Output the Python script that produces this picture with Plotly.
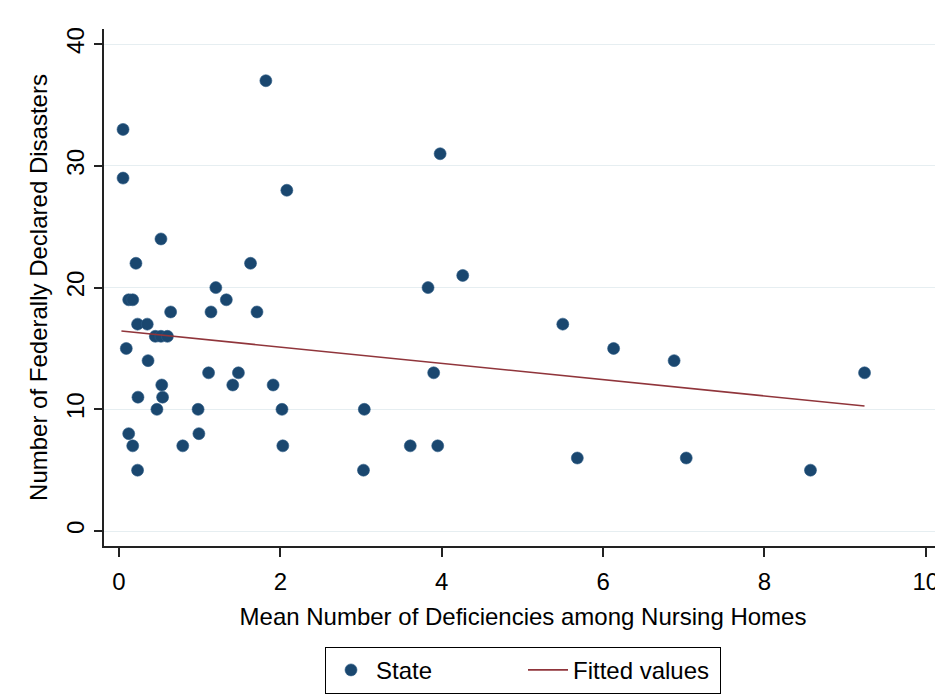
import plotly.graph_objects as go

# Mean number of deficiencies (x) and number of federally declared disasters (y), one point per state
deficiencies = [
    0.05, 0.05, 1.82, 2.08, 0.52, 0.21, 1.63, 1.20, 0.12, 0.17,
    1.33, 0.64, 1.14, 1.71, 0.23, 0.35, 0.45, 0.52, 0.60, 0.09,
    0.36, 1.11, 1.48, 0.53, 1.41, 1.91, 0.235, 0.54, 0.47, 0.98,
    2.02, 0.12, 0.99, 0.17, 0.79, 2.03, 0.23, 3.98, 4.26, 3.83,
    5.50, 6.13, 3.90, 3.04, 3.61, 3.95, 5.68, 3.03, 6.88, 9.24,
    7.03, 8.57,
]
disasters = [
    33, 29, 37, 28, 24, 22, 22, 20, 19, 19,
    19, 18, 18, 18, 17, 17, 16, 16, 16, 15,
    14, 13, 13, 12, 12, 12, 11, 11, 10, 10,
    10, 8, 8, 7, 7, 7, 5, 31, 21, 20,
    17, 15, 13, 10, 7, 7, 6, 5, 14, 13,
    6, 5,
]

# Fitted values (linear fit) at the ends of the data range
fitted_x = [0.03, 9.24]
fitted_y = [16.43, 10.27]

x_ticks = [0, 2, 4, 6, 8, 10]
y_ticks = [0, 10, 20, 30, 40]

FONT = "Liberation Sans, Arial, Helvetica, sans-serif"
NAVY = "#1a476f"
MAROON = "#90353b"

fig = go.Figure()
fig.add_trace(go.Scatter(
    x=deficiencies, y=disasters, mode="markers", name="State",
    marker=dict(color=NAVY, size=12, line=dict(color="#2b5a85", width=0.6)),
))
fig.add_trace(go.Scatter(
    x=fitted_x, y=fitted_y, mode="lines", name="Fitted values",
    line=dict(color=MAROON, width=1.6),
))

# the page places the figure 8px in from the top-left corner
fig.update_layout(
    width=935, height=690,
    margin=dict(l=96, r=1, t=21, b=152, autoexpand=False),
    paper_bgcolor="white", plot_bgcolor="white",
    font=dict(family=FONT, color="#000000", size=22),
    showlegend=True,
    legend=dict(
        orientation="h", x=0.5, xanchor="center", y=-0.195, yanchor="top",
        bordercolor="#000000", borderwidth=1, bgcolor="white",
        font=dict(size=24, family=FONT), itemwidth=40, entrywidth=142,
    ),
)
fig.update_xaxes(
    range=[-0.186, 10.2], tickvals=x_ticks, ticktext=[str(t) for t in x_ticks],
    showgrid=False, zeroline=False, automargin=False,
    showline=True, linecolor="#222222", linewidth=1.5,
    ticks="outside", ticklen=9, tickwidth=1.5, tickcolor="#222222",
    tickfont=dict(size=24), ticklabelstandoff=4,
    title=dict(text="Mean Number of Deficiencies among Nursing Homes",
               font=dict(size=24), standoff=15),
)
fig.update_yaxes(
    range=[-1.23, 41.25], tickvals=y_ticks, ticktext=[str(t) for t in y_ticks],
    showgrid=True, gridcolor="#e6eef1", gridwidth=1.2, zeroline=False, automargin=False,
    showline=True, linecolor="#222222", linewidth=1.5,
    ticks="outside", ticklen=8, tickwidth=1.5, tickcolor="#222222",
    tickfont=dict(size=24), tickangle=-90, ticklabelstandoff=1,
    title=dict(text="Number of Federally Declared Disasters",
               font=dict(size=24), standoff=7),
)

fig.write_html("out.html")
